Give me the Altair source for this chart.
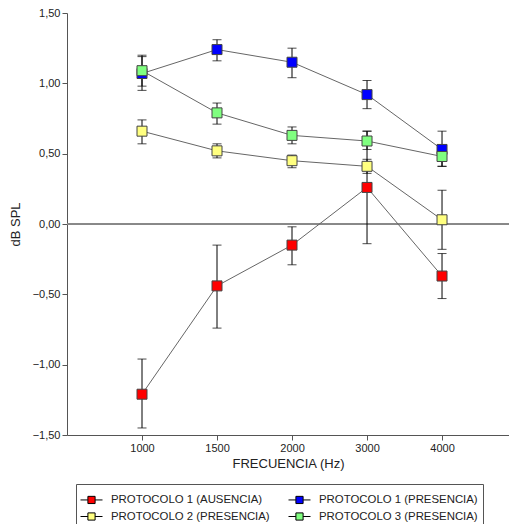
import altair as alt
import pandas as pd

freqs = ["1000", "1500", "2000", "3000", "4000"]
series = ["PROTOCOLO 1 (AUSENCIA)", "PROTOCOLO 1 (PRESENCIA)",
          "PROTOCOLO 2 (PRESENCIA)", "PROTOCOLO 3 (PRESENCIA)"]
colors = ["#ff0000", "#0000ff", "#ffff80", "#80ff80"]
# legend order (filled column by column, 2 columns)
legend_order = [0, 2, 1, 3]

mean_p1a = [-1.21, -0.44, -0.15, 0.26, -0.37]
lo_p1a = [-1.45, -0.74, -0.29, -0.14, -0.53]
hi_p1a = [-0.96, -0.15, -0.02, 0.66, -0.21]

mean_p1p = [1.07, 1.24, 1.15, 0.92, 0.53]
lo_p1p = [0.95, 1.16, 1.04, 0.82, 0.41]
hi_p1p = [1.19, 1.31, 1.25, 1.02, 0.66]

mean_p2 = [0.66, 0.52, 0.45, 0.41, 0.03]
lo_p2 = [0.57, 0.47, 0.40, 0.36, -0.18]
hi_p2 = [0.74, 0.57, 0.49, 0.46, 0.24]

mean_p3 = [1.09, 0.79, 0.63, 0.59, 0.48]
lo_p3 = [0.98, 0.71, 0.57, 0.53, 0.41]
hi_p3 = [1.20, 0.86, 0.69, 0.66, 0.56]

rows = []
for s, m, lo, hi in zip(series, [mean_p1a, mean_p1p, mean_p2, mean_p3],
                        [lo_p1a, lo_p1p, lo_p2, lo_p3],
                        [hi_p1a, hi_p1p, hi_p2, hi_p3]):
    for i, f in enumerate(freqs):
        rows.append({"serie": s, "freq": f, "idx": i + 1,
                     "valor": m[i], "lo": lo[i], "hi": hi[i]})
df = pd.DataFrame(rows)

dom = [series[i] for i in legend_order]
rng = [colors[i] for i in legend_order]

label_expr = "datum.value==1?'1000':datum.value==2?'1500':datum.value==3?'2000':datum.value==4?'3000':datum.value==5?'4000':''"

x = alt.X("idx:Q", scale=alt.Scale(domain=[0, 5.893], nice=False, zero=False),
          axis=alt.Axis(values=[1, 2, 3, 4, 5], labelExpr=label_expr,
                        title="FRECUENCIA (Hz)", grid=False, titlePadding=4))
y = alt.Y("valor:Q", scale=alt.Scale(domain=[-1.5, 1.5], nice=False),
          axis=alt.Axis(values=[-1.5, -1.0, -0.5, 0.0, 0.5, 1.0, 1.5],
                        labelExpr="replace(format(datum.value, '.2f'), '.', ',')",
                        title="dB SPL", grid=False, titlePadding=10))

base = alt.Chart(df)

zero = base.mark_rule(color="#888", strokeWidth=1).encode(y=alt.datum(0))

lines = base.mark_line(color="#666", strokeWidth=1).encode(
    x=x, y=y, detail="serie:N", order="idx:Q")

err = base.mark_rule(color="#000", strokeWidth=1).encode(
    x=x, y=alt.Y("lo:Q"), y2="hi:Q")
cap_lo = base.mark_tick(color="#000", orient="horizontal", size=9, thickness=1).encode(
    x=x, y=alt.Y("lo:Q"))
cap_hi = base.mark_tick(color="#000", orient="horizontal", size=9, thickness=1).encode(
    x=x, y=alt.Y("hi:Q"))

sym = "M-1.1,0H-0.36M0.36,0H1.1M-0.36,-0.36H0.36V0.36H-0.36Z"

points = base.mark_square(size=100, stroke="#444", strokeWidth=1, opacity=1).encode(
    x=x, y=y,
    fill=alt.Fill("serie:N", scale=alt.Scale(domain=dom, range=rng),
                  legend=alt.Legend(title=None, orient="none", legendX=9, legendY=471,
                                    columns=2, columnPadding=16, rowPadding=0,
                                    symbolType=sym, symbolSize=400,
                                    symbolStrokeColor="#000", symbolStrokeWidth=1,
                                    labelFontSize=11.4, labelColor="#222",
                                    labelFont="Liberation Sans", labelLimit=300,
                                    labelOffset=9,
                                    strokeColor="#555", padding=5,
                                    symbolOffset=0)))

chart = alt.layer(zero, lines, err, cap_lo, cap_hi, points).properties(
    width=442, height=422,
    autosize=alt.AutoSizeParams(type="none"),
    padding={"left": 67, "top": 13, "right": 0, "bottom": 89},
    background="white",
).configure_view(stroke=None).configure_axis(
    labelFont="Liberation Sans", titleFont="Liberation Sans",
    labelFontSize=11, titleFontSize=13, titleFontWeight="normal",
    labelColor="#222", titleColor="#222",
    domainColor="#555", tickColor="#555", tickSize=5,
)

chart.save("out.html", embed_options={"renderer": "svg", "actions": False})
